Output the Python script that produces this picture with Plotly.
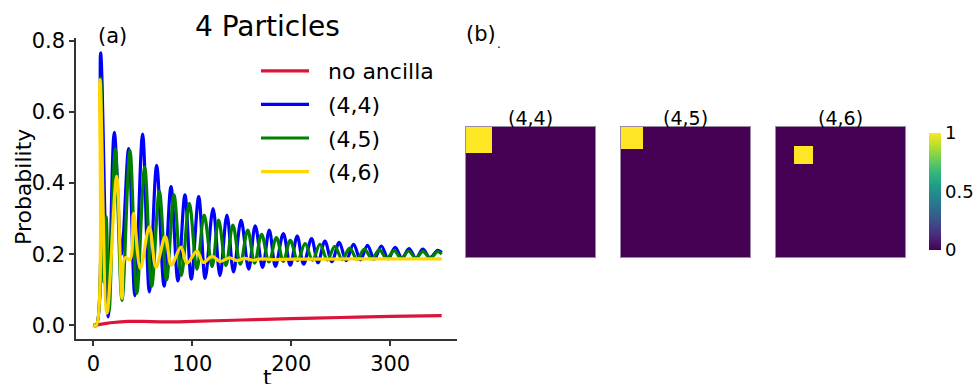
import plotly.graph_objects as go

# ---------------- data ----------------
red_t = [0, 10, 20, 35, 50, 72, 100, 150, 200, 250, 300, 352]
red_p = [0, 0.004, 0.008, 0.011, 0.011, 0.0095, 0.011, 0.015, 0.019, 0.022, 0.025, 0.027]

blue_t = [0, 3, 7.4, 15, 21.2, 28.5, 35.7, 42, 49.8, 56.6, 64, 71.5, 78.5, 85.5, 92.6, 99,
          106.5, 113, 121, 128, 135, 141.7, 149.3, 157, 163.6, 171, 177.8, 184, 192, 199,
          206, 212.5, 220.5, 227, 234, 241, 248.5, 255.5, 263, 270, 277, 284, 291, 298,
          305, 312, 319, 326, 333, 340, 348, 352]
blue_p = [0, 0, 0.766, 0.024, 0.543, 0.2, 0.497, 0.083, 0.538, 0.094, 0.45, 0.11, 0.39, 0.125,
          0.367, 0.13, 0.362, 0.132, 0.328, 0.14, 0.31, 0.15, 0.295, 0.158, 0.28, 0.163, 0.268,
          0.166, 0.258, 0.169, 0.251, 0.172, 0.244, 0.176, 0.237, 0.179, 0.233, 0.182, 0.228,
          0.184, 0.225, 0.186, 0.223, 0.187, 0.219, 0.188, 0.216, 0.189, 0.214, 0.19, 0.211, 0.205]

green_t = [0, 3, 7.4, 10.8, 13, 16, 22.2, 29, 37, 44, 51.9, 59, 66.7, 74, 81.5, 89, 97,
           104.7, 112, 120, 126.6, 134, 141, 148.5, 156, 163, 170, 177.5, 185, 192, 199,
           206.5, 214, 221.5, 229, 236.5, 244, 251.5, 259, 266.5, 274, 281.5, 289, 296.5,
           304, 311, 318.5, 326, 333, 340.5, 348, 352]
green_p = [0, 0, 0.696, 0.12, 0.306, 0.04, 0.496, 0.07, 0.492, 0.09, 0.445, 0.11, 0.377, 0.128,
           0.367, 0.14, 0.343, 0.158, 0.31, 0.165, 0.296, 0.168, 0.282, 0.172, 0.268, 0.175,
           0.256, 0.178, 0.247, 0.18, 0.239, 0.182, 0.23, 0.183, 0.228, 0.184, 0.222, 0.185,
           0.217, 0.186, 0.214, 0.187, 0.212, 0.188, 0.21, 0.188, 0.209, 0.189, 0.208, 0.189,
           0.207, 0.2]

yellow_t = [0, 3, 6.7, 13.8, 23.6, 29, 32, 37, 40.7, 47.5, 56.6, 63.3, 72.7, 78.8, 88.5,
            94.6, 104.7, 111, 120, 128, 137.7, 145, 153, 161, 170, 180, 200, 230, 260, 300, 352]
yellow_p = [0, 0, 0.69, 0.034, 0.419, 0.076, 0.19, 0.185, 0.315, 0.16, 0.277, 0.163, 0.25,
            0.169, 0.22, 0.174, 0.209, 0.177, 0.194, 0.18, 0.19, 0.182, 0.188, 0.183, 0.187,
            0.185, 0.186, 0.186, 0.187, 0.187, 0.187]

series_names = ["no ancilla", "(4,4)", "(4,5)", "(4,6)"]
series_colors = ["#dc143c", "#0000ff", "#008000", "#ffd700"]

x_ticks = [0, 100, 200, 300]
y_ticks = [0.0, 0.2, 0.4, 0.6, 0.8]

# occupation maps
map_44 = [[1, 0, 0, 0, 0],
          [0, 0, 0, 0, 0],
          [0, 0, 0, 0, 0],
          [0, 0, 0, 0, 0],
          [0, 0, 0, 0, 0]]
map_45 = [[1, 0, 0, 0, 0, 0],
          [0, 0, 0, 0, 0, 0],
          [0, 0, 0, 0, 0, 0],
          [0, 0, 0, 0, 0, 0],
          [0, 0, 0, 0, 0, 0],
          [0, 0, 0, 0, 0, 0]]
map_46 = [[0, 0, 0, 0, 0, 0, 0],
          [0, 1, 0, 0, 0, 0, 0],
          [0, 0, 0, 0, 0, 0, 0],
          [0, 0, 0, 0, 0, 0, 0],
          [0, 0, 0, 0, 0, 0, 0],
          [0, 0, 0, 0, 0, 0, 0],
          [0, 0, 0, 0, 0, 0, 0]]
map_titles = ["(4,4)", "(4,5)", "(4,6)"]
cbar_ticks = [0, 0.5, 1]
cbar_text = ["0", "0.5", "1"]

# ---------------- figure ----------------
W, H = 974, 384
FONT = "DejaVu Sans"
NB = "\u00a0\u00a0"


def px(x):
    return x / W


def py(y):
    return 1 - y / H


fig = go.Figure()

all_series = [(red_t, red_p), (blue_t, blue_p), (green_t, green_p), (yellow_t, yellow_p)]
for i, ((t, p), name, col) in enumerate(zip(all_series, series_names, series_colors)):
    fig.add_trace(go.Scatter(
        x=t, y=p, mode="lines", name=NB + name, legendgroup=name,
        line=dict(color=col, width=3.2, shape="spline", smoothing=1.0),
        xaxis="x", yaxis="y",
    ))

maps = [map_44, map_45, map_46]
for k, z in enumerate(maps):
    fig.add_trace(go.Heatmap(
        z=z, zmin=0, zmax=1, colorscale="Viridis",
        xaxis=f"x{k+2}", yaxis=f"y{k+2}",
        showscale=(k == 2),
        colorbar=dict(
            thickness=12, thicknessmode="pixels",
            len=117 / H, lenmode="fraction",
            x=px(929), xanchor="left", xpad=0,
            y=py(191.5), yanchor="middle", ypad=0,
            outlinewidth=0, ticks="",
            tickvals=cbar_ticks, ticktext=cbar_text,
            tickfont=dict(family=FONT, size=18, color="black"),
        ) if k == 2 else None,
        showlegend=False,
    ))

axis_col = "#333333"
layout = dict(
    width=W, height=H,
    margin=dict(l=0, r=0, t=0, b=0, pad=0, autoexpand=False),
    paper_bgcolor="white", plot_bgcolor="white",
    font=dict(family=FONT, color="black"),
    xaxis=dict(domain=[px(76), px(457)], range=[-17.5, 367.5], anchor="y",
               tickvals=x_ticks, ticktext=[str(v) for v in x_ticks],
               showline=True, linecolor=axis_col, linewidth=1.5,
               ticks="outside", ticklen=5, tickcolor=axis_col, tickwidth=1.5,
               showgrid=False, zeroline=False,
               tickfont=dict(family=FONT, size=21, color="black")),
    yaxis=dict(domain=[py(339), py(38)], range=[-0.0385, 0.808], anchor="x",
               tickvals=y_ticks, ticktext=[f"{v:.1f}" for v in y_ticks],
               showline=True, linecolor=axis_col, linewidth=1.5,
               ticks="outside", ticklen=5, tickcolor=axis_col, tickwidth=1.5,
               showgrid=False, zeroline=False,
               tickfont=dict(family=FONT, size=21, color="black")),
    legend=dict(x=px(256), y=py(50), xanchor="left", yanchor="top",
                bgcolor="rgba(0,0,0,0)", borderwidth=0,
                font=dict(family=FONT, size=22, color="black"),
                tracegroupgap=2, itemwidth=48),
    showlegend=True,
)

hm_x = [(466, 595), (621, 750), (776, 905)]
for k, (x0, x1) in enumerate(hm_x):
    layout[f"xaxis{k+2}"] = dict(domain=[px(x0), px(x1)], anchor=f"y{k+2}",
                                 showticklabels=False, ticks="", showgrid=False, zeroline=False,
                                 showline=True, mirror=True, linecolor="#9a8aa6", linewidth=1)
    layout[f"yaxis{k+2}"] = dict(domain=[py(257), py(127)], anchor=f"x{k+2}",
                                 autorange="reversed",
                                 showticklabels=False, ticks="", showgrid=False, zeroline=False,
                                 showline=True, mirror=True, linecolor="#9a8aa6", linewidth=1)

fig.update_layout(**layout)

ann = []


def add_text(text, x, y, size, xanchor="center", yanchor="middle", angle=0):
    ann.append(dict(text=text, x=px(x), y=py(y), xref="paper", yref="paper",
                    xanchor=xanchor, yanchor=yanchor, showarrow=False, textangle=angle,
                    font=dict(family=FONT, size=size, color="black")))


add_text("4 Particles", 267, 26, 28)
add_text("(a)", 112, 36, 21)
add_text("(b)", 481, 34, 21)
add_text(".", 499, 44, 12)
add_text("Probability", 23, 187, 22, angle=-90)
add_text("t", 267, 392, 22, yanchor="bottom")
for k, (x0, x1) in enumerate(hm_x):
    add_text(map_titles[k], (x0 + x1) / 2, 118, 19)

fig.update_layout(annotations=ann)

fig.write_html("out.html")
